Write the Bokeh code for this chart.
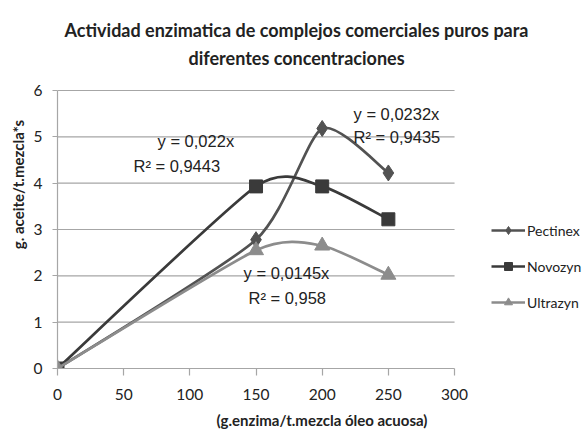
from bokeh.plotting import figure
from bokeh.models import Range1d, FixedTicker, Label, Legend, LegendItem, ColumnDataSource
from bokeh.embed import file_html
from bokeh.resources import INLINE

# ---- data ----
x_vals = [0, 150, 200, 250]
pectinex = [0, 2.78, 5.18, 4.22]
novozyn = [0, 3.93, 3.93, 3.22]
ultrazyn = [0, 2.55, 2.65, 2.02]
series_names = ["Pectinex", "Novozyn", "Ultrazyn"]
x_ticks = [0, 50, 100, 150, 200, 250, 300]
y_ticks = [0, 1, 2, 3, 4, 5, 6]
title_lines = ["Actividad enzimatica de complejos comerciales puros para",
               "diferentes concentraciones"]
trend_texts = [("y = 0,022x", "R² = 0,9443"),
               ("y = 0,0232x", "R² = 0,9435"),
               ("y = 0,0145x", "R² = 0,958")]

colors = ["#525252", "#3a3a3a", "#8c8c8c"]
markers = ["diamond", "square", "triangle"]
msizes = [16, 13, 15]

FONT_C = "Lato"
FONT_A = "Liberation Sans"
TXT = "#222222"
GRID = "#a6a6a6"

# The frame spans the whole canvas right of / above the axes, so that the
# title and legend (drawn inside it) are not clipped.
p = figure(width=586, height=435, output_backend="svg", toolbar_location=None,
           x_range=Range1d(0, 399.7), y_range=Range1d(0, 7.942),
           min_border_left=57, min_border_right=0, min_border_top=0,
           min_border_bottom=67)
p.outline_line_color = None
p.xgrid.visible = False
p.ygrid.visible = False
p.xaxis.ticker = FixedTicker(ticks=x_ticks)
p.yaxis.ticker = FixedTicker(ticks=y_ticks)
p.xaxis.bounds = (x_ticks[0], x_ticks[-1])
p.yaxis.bounds = (y_ticks[0], y_ticks[-1])
for ax in (p.xaxis[0], p.yaxis[0]):
    ax.axis_line_color = GRID
    ax.axis_line_width = 1.2
    ax.major_tick_line_color = GRID
    ax.major_tick_line_width = 1.2
    ax.minor_tick_line_color = None
    ax.major_tick_in = 0
    ax.major_label_text_font = FONT_C
    ax.major_label_text_font_size = "15.5px"
    ax.major_label_text_color = TXT
    ax.axis_label_text_font = FONT_C
    ax.axis_label_text_font_style = "bold"
    ax.axis_label_text_font_size = "15px"
    ax.axis_label_text_color = TXT
p.xaxis.major_tick_out = 7
p.yaxis.major_tick_out = 5
p.xaxis.major_label_standoff = 13
p.yaxis.major_label_standoff = 10
p.xaxis.axis_label = "(g.enzima/t.mezcla óleo acuosa)"
p.yaxis.axis_label = "g. aceite/t.mezcla*s"
p.xaxis.axis_label_standoff = 8
p.yaxis.axis_label_standoff = 4

# horizontal gridlines across the plotted x span
p.segment(x0=[x_ticks[0]] * (len(y_ticks) - 1), x1=[x_ticks[-1]] * (len(y_ticks) - 1),
          y0=y_ticks[1:], y1=y_ticks[1:], line_color=GRID, line_width=1.2)


def smooth_segments(xs, ys, k=0.11):
    n = len(xs)
    seg = dict(x0=[], y0=[], x1=[], y1=[], cx0=[], cy0=[], cx1=[], cy1=[])
    for i in range(n - 1):
        i0 = max(i - 1, 0)
        i3 = min(i + 2, n - 1)
        seg["x0"].append(xs[i]); seg["y0"].append(ys[i])
        seg["x1"].append(xs[i + 1]); seg["y1"].append(ys[i + 1])
        seg["cx0"].append(xs[i] + (xs[i + 1] - xs[i0]) * k)
        seg["cy0"].append(ys[i] + (ys[i + 1] - ys[i0]) * k)
        seg["cx1"].append(xs[i + 1] - (xs[i3] - xs[i]) * k)
        seg["cy1"].append(ys[i + 1] - (ys[i3] - ys[i]) * k)
    return ColumnDataSource(seg)


items = []
for name, ys, c, m, s in zip(series_names, [pectinex, novozyn, ultrazyn], colors, markers, msizes):
    src = smooth_segments(x_vals, ys)
    r1 = p.bezier(x0="x0", y0="y0", x1="x1", y1="y1", cx0="cx0", cy0="cy0",
                  cx1="cx1", cy1="cy1", source=src, line_color=c, line_width=2.7)
    r2 = p.scatter(x_vals, ys, marker=m, size=s, fill_color=c, line_color=c)
    items.append(LegendItem(label=name, renderers=[r1, r2]))

legend = Legend(items=items, location=(434, 56), background_fill_alpha=0,
                border_line_color=None, glyph_width=34, glyph_height=20,
                label_text_font=FONT_C, label_text_font_size="14px",
                label_text_color=TXT, spacing=16, padding=0, margin=0,
                label_standoff=2, label_height=20)
p.add_layout(legend, "center")

# trendline equations
tpos = [((75.6, 4.92), (57.4, 4.38)), ((223.7, 5.50), (223.7, 4.99)), ((140.6, 2.07), (144.3, 1.53))]
for (t1, t2), ((ax1, ay1), (ax2, ay2)) in zip(trend_texts, tpos):
    for t, xx, yy in ((t1, ax1, ay1), (t2, ax2, ay2)):
        p.add_layout(Label(x=xx, y=yy, text=t, text_font=FONT_A, text_font_size="16.5px",
                           text_color=TXT, text_baseline="middle"))

# title
for t, yy in zip(title_lines, (7.295, 6.691)):
    p.add_layout(Label(x=180.6, y=yy, text=t, text_font=FONT_C, text_font_style="bold",
                       text_font_size="18px", text_color=TXT, text_align="center",
                       text_baseline="alphabetic"))

open("out.html", "w").write(file_html(p, INLINE))
